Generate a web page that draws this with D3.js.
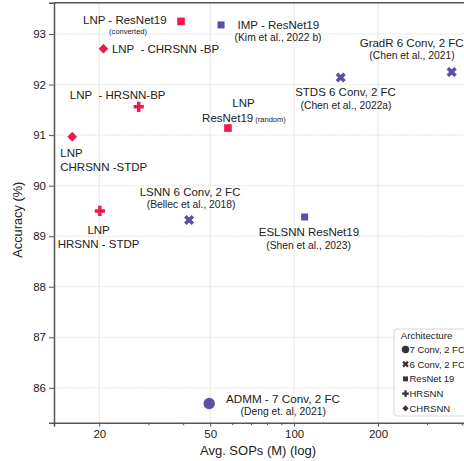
<!DOCTYPE html>
<html lang="en">
<head>
<meta charset="utf-8">
<title>Accuracy vs SOPs</title>
<script src="https://cdn.jsdelivr.net/npm/d3@7"></script>
<style>
body { margin: 0; background: #fff; }
svg { font-family: "Liberation Sans", Arial, sans-serif; }
text { white-space: pre; fill: #222; }
</style>
</head>
<body>
<script>
// data
let names = ["LNP conv", "LNP CHRSNN-BP", "LNP HRSNN-BP", "LNP random", "LNP CHRSNN-STDP", "LNP HRSNN-STDP",
             "IMP", "STDS", "GradR", "LSNN", "ESLSNN", "ADMM"];
let sops = [39.3, 20.7, 27.7, 57.9, 16.0, 20.1, 54.7, 147, 367.6, 42.0, 109.1, 49.6];
let accuracy = [93.25, 92.71, 91.56, 91.14, 90.97, 89.50, 93.18, 92.14, 92.25, 89.32, 89.38, 85.69];
let archs = ["ResNet 19", "CHRSNN", "HRSNN", "ResNet 19", "CHRSNN", "HRSNN",
             "ResNet 19", "6 Conv, 2 FC", "6 Conv, 2 FC", "6 Conv, 2 FC", "ResNet 19", "7 Conv, 2 FC"];
let ours = [true, true, true, true, true, true, false, false, false, false, false, false];
let legendNames = ["7 Conv, 2 FC", "6 Conv, 2 FC", "ResNet 19", "HRSNN", "CHRSNN"];
let xTicks = [20, 50, 100, 200];
let xMinor = [30, 40, 60, 70, 80, 90, 300, 400];
let yTicks = [86, 87, 88, 89, 90, 91, 92, 93];

// label text for each point, with placement offsets from the marker
let labels = [
  [["LNP - ResNet19", -14.5, 3, 11.5, "end"], ["(converted)", -53, 13, 7.5, "middle"]],
  [["LNP  - CHRSNN -BP", 8.5, 4.5, 11.5, "start"]],
  [["LNP  - HRSNN-BP", -21, -7.5, 11.5, "middle"]],
  [["LNP", 15.5, -21.5, 11.5, "middle"], ["ResNet19|(random)", 16, -6.5, 11.5, "middle"]],
  [["LNP", -12, 20.5, 11.5, "start"], ["CHRSNN -STDP", -12, 34.5, 11.5, "start"]],
  [["LNP", -1.3, 23, 11.5, "middle"], ["HRSNN - STDP", -1.3, 37, 11.5, "middle"]],
  [["IMP - ResNet19", 57.3, 4.3, 11.5, "middle"], ["(Kim et al., 2022 b)", 57, 16.3, 10.3, "middle"]],
  [["STDS 6 Conv, 2 FC", 4.8, 18.7, 11.5, "middle"], ["(Chen et al., 2022a)", 5.3, 31.7, 10.3, "middle"]],
  [["GradR 6 Conv, 2 FC", -40, -25, 11.5, "middle"], ["(Chen et al., 2021)", -39.7, -13, 10.3, "middle"]],
  [["LSNN 6 Conv, 2 FC", 1, -24, 11.5, "middle"], ["(Bellec et al., 2018)", 2, -12, 10.3, "middle"]],
  [["ESLSNN ResNet19", 4.3, 19.3, 11.5, "middle"], ["(Shen et al., 2023)", 4, 32.3, 10.3, "middle"]],
  [["ADMM - 7 Conv, 2 FC", 16.7, -0.3, 11.7, "start"], ["(Deng et. al, 2021)", 31.4, 11.7, 10.3, "start"]]
];

let w = 464, h = 461;
let red = "#f2164f", purple = "#5a4fa6";

let svg = d3.select("body").append("svg").attr("width", w).attr("height", h);

let x = d3.scaleLog().domain([13.76, 407]).range([54, 464]);
let y = d3.scaleLinear().domain([85.31, 93.62]).range([422.7, 2.7]);

// grid
svg.selectAll(".vg").data(xTicks).enter().append("line")
  .attr("x1", d => x(d)).attr("x2", d => x(d))
  .attr("y1", y.range()[1]).attr("y2", y.range()[0])
  .attr("stroke", "#e6e6e6").attr("stroke-width", 1);
svg.selectAll(".hg").data(yTicks).enter().append("line")
  .attr("x1", 54).attr("x2", w)
  .attr("y1", d => y(d)).attr("y2", d => y(d))
  .attr("stroke", "#cfcfcf").attr("stroke-width", 0.8).attr("stroke-dasharray", "1.2,1.2");

// axes
svg.append("g").attr("transform", "translate(0," + y.range()[0] + ")")
  .call(d3.axisBottom(x).tickValues(xTicks).tickFormat(d3.format("d")).tickSize(4).tickPadding(3));
svg.append("g").attr("transform", "translate(0," + y.range()[0] + ")")
  .call(d3.axisBottom(x).tickValues(xMinor).tickFormat("").tickSize(2.5))
  .select(".domain").remove();
svg.append("g").attr("transform", "translate(54,0)")
  .call(d3.axisLeft(y).tickValues(yTicks).tickSize(5).tickPadding(3));
svg.selectAll(".tick line").attr("stroke", "#555");
svg.selectAll(".tick text").attr("font-size", 11.5).attr("font-family", "Liberation Sans, Arial, sans-serif").style("fill", "#222");
svg.selectAll(".domain").attr("stroke", "#555").attr("stroke-width", 1.5);
// top spine
svg.append("line").attr("x1", 54).attr("x2", w).attr("y1", y.range()[1]).attr("y2", y.range()[1])
  .attr("stroke", "#555").attr("stroke-width", 1.5);

// axis titles
svg.append("text").attr("x", 258).attr("y", 455).attr("text-anchor", "middle")
  .attr("font-size", 13).text("Avg. SOPs (M) (log)");
svg.append("text").attr("transform", "translate(21.5,219.7) rotate(-90)").attr("text-anchor", "middle")
  .attr("font-size", 12.8).text("Accuracy (%)");

// marker shapes
function shape(arch, scale) {
  scale = scale || 1;
  if (arch == "7 Conv, 2 FC") return {p: d3.symbol().type(d3.symbolCircle).size(102 * scale)(), r: 0};
  if (arch == "6 Conv, 2 FC") return {p: d3.symbol().type(d3.symbolCross).size(64 * scale)(), r: 45};
  if (arch == "HRSNN") return {p: d3.symbol().type(d3.symbolCross).size(58 * scale)(), r: 0};
  if (arch == "CHRSNN") return {p: d3.symbol().type(d3.symbolSquare).size(46 * scale)(), r: 45};
  return {p: d3.symbol().type(d3.symbolSquare).size(58 * scale)(), r: 0};
}

let points = sops.map((s, i) => ({s: s, a: accuracy[i], arch: archs[i], ours: ours[i], name: names[i], lab: labels[i]}));

svg.selectAll(".pt").data(points).enter().append("path")
  .attr("d", d => shape(d.arch, d.ours || d.arch != "ResNet 19" ? 1 : 0.85).p)
  .attr("transform", d => "translate(" + x(d.s) + "," + y(d.a) + ") rotate(" + shape(d.arch).r + ")")
  .attr("fill", d => d.ours ? red : purple);

// annotations
points.forEach(function(d) {
  let px = x(d.s), py = y(d.a);
  d.lab.forEach(function(l) {
    let t = svg.append("text").attr("x", px + l[1]).attr("y", py + l[2])
      .attr("text-anchor", l[4]).attr("font-size", l[3]);
    let parts = l[0].split("|");
    t.append("tspan").text(parts[0]);
    if (parts.length > 1) t.append("tspan").attr("font-size", 7.5).text(" " + parts[1]);
  });
});

// legend
let lg = svg.append("g").attr("transform", "translate(394,329)");
lg.append("rect").attr("width", 90).attr("height", 87).attr("rx", 3)
  .attr("fill", "#fff").attr("stroke", "#cccccc").attr("stroke-width", 0.8);
lg.append("text").attr("x", 6.7).attr("y", 10).attr("font-size", 9.7).text("Architecture");
legendNames.forEach(function(n, i) {
  let cy = 20.5 + i * 14.7;
  let sh = shape(n, 0.42);
  lg.append("path").attr("d", sh.p).attr("transform", "translate(11.5," + cy + ") rotate(" + sh.r + ")").attr("fill", "#333");
  lg.append("text").attr("x", 15.5).attr("y", cy + 3.4).attr("font-size", 9.5).text(n);
});
</script>
</body>
</html>
